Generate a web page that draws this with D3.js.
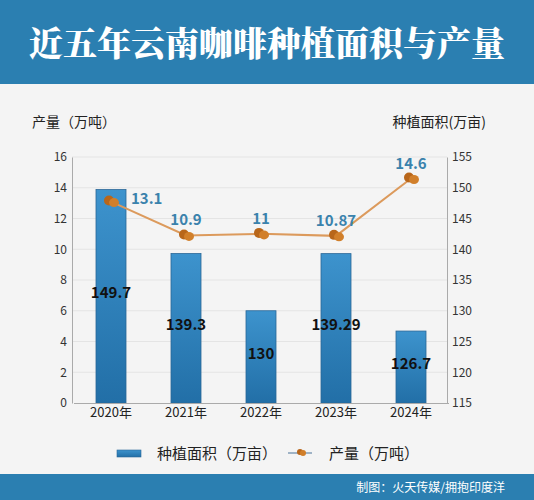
<!DOCTYPE html>
<html>
<head>
<meta charset="utf-8">
<script src="https://cdn.jsdelivr.net/npm/d3@7"></script>
<style>
  body { margin: 0; padding: 0; background: #f4f4f4; }
  svg { display: block; font-family: "Noto Sans CJK SC", "Noto Sans", sans-serif; }
</style>
</head>
<body>
<div id="chart"></div>
<script>
// data
const years = ["2020年", "2021年", "2022年", "2023年", "2024年"];
const areaValues = [149.7, 139.3, 130, 139.29, 126.7];      // 种植面积 (万亩), right axis
const outputValues = [13.1, 10.9, 11, 10.87, 14.6];          // 产量 (万吨), left axis
const leftTicks = [0, 2, 4, 6, 8, 10, 12, 14, 16];
const rightTicks = [115, 120, 125, 130, 135, 140, 145, 150, 155];

const W = 534, H = 500;
const margin = {top: 157, right: 87, bottom: 97, left: 72};
const plotW = W - margin.left - margin.right;
const plotH = H - margin.top - margin.bottom;

const svg = d3.select("#chart").append("svg")
    .attr("width", W)
    .attr("height", H);

// bar gradient
const defs = svg.append("defs");
const grad = defs.append("linearGradient")
    .attr("id", "barGrad")
    .attr("x1", 0).attr("y1", 0).attr("x2", 0).attr("y2", 1);
grad.append("stop").attr("offset", "0%").attr("stop-color", "#3d93cd");
grad.append("stop").attr("offset", "100%").attr("stop-color", "#226fa7");

// background pieces
svg.append("rect").attr("width", W).attr("height", H).attr("fill", "#f4f4f4");
svg.append("rect").attr("width", W).attr("height", 84).attr("fill", "#2b7fb1");
svg.append("rect").attr("y", 474).attr("width", W).attr("height", 26).attr("fill", "#2b7fb1");

svg.append("text")
    .attr("x", W / 2)
    .attr("y", 56)
    .attr("text-anchor", "middle")
    .attr("fill", "#ffffff")
    .attr("font-size", 34)
    .attr("font-weight", 900)
    .attr("font-family", "'Noto Serif CJK SC', 'Noto Sans CJK SC', sans-serif")
    .text("近五年云南咖啡种植面积与产量");

svg.append("text")
    .attr("x", 505)
    .attr("y", 492)
    .attr("text-anchor", "end")
    .attr("fill", "#ffffff")
    .attr("font-size", 12)
    .text("制图：火天传媒/拥抱印度洋");

// axis titles
svg.append("text")
    .attr("x", 32).attr("y", 127)
    .attr("fill", "#222").attr("font-size", 14)
    .text("产量（万吨）");
svg.append("text")
    .attr("x", 486).attr("y", 127)
    .attr("text-anchor", "end")
    .attr("fill", "#222").attr("font-size", 14)
    .text("种植面积(万亩)");

const g = svg.append("g").attr("transform", `translate(${margin.left},${margin.top})`);

// scales
const x = d3.scaleBand().domain(years).range([1.5, plotW + 1.5]).paddingInner(0.6).paddingOuter(0.3);
const yL = d3.scaleLinear().domain([0, 16]).range([plotH, 0]);
const yR = d3.scaleLinear().domain([115, 155]).range([plotH, 0]);

// grid
g.selectAll(".grid")
    .data(leftTicks.slice(1))
    .enter().append("line")
    .attr("class", "grid")
    .attr("x1", 0).attr("x2", plotW)
    .attr("y1", d => yL(d)).attr("y2", d => yL(d))
    .attr("stroke", "#e4e4e4").attr("stroke-width", 1);

// bars
g.selectAll(".bar")
    .data(areaValues)
    .enter().append("rect")
    .attr("class", "bar")
    .attr("x", (d, i) => x(years[i]))
    .attr("y", d => yR(d))
    .attr("width", x.bandwidth())
    .attr("height", d => plotH - yR(d))
    .attr("fill", "url(#barGrad)")
    .attr("stroke", "#2a6797")
    .attr("stroke-width", 0.8);

// bar value labels
g.selectAll(".barLabel")
    .data(areaValues)
    .enter().append("text")
    .attr("class", "barLabel")
    .attr("x", (d, i) => x(years[i]) + x.bandwidth() / 2)
    .attr("y", d => (yR(d) + plotH) / 2 + 2)
    .attr("text-anchor", "middle")
    .attr("fill", "#111")
    .attr("font-size", 15)
    .attr("font-weight", "bold")
    .text(d => d);

// axes
const axisL = g.append("g").call(d3.axisLeft(yL).tickValues(leftTicks).tickSize(0).tickPadding(5));
const axisR = g.append("g").attr("transform", `translate(${plotW},0)`)
    .call(d3.axisRight(yR).tickValues(rightTicks).tickSize(0).tickPadding(5));
const axisB = g.append("g").attr("transform", `translate(0,${plotH})`)
    .call(d3.axisBottom(x).tickSize(0).tickPadding(5));
[axisL, axisR, axisB].forEach(a => {
    a.select(".domain").attr("stroke", "#aaaaaa");
    a.selectAll("text").attr("fill", "#333").attr("font-size", 12)
        .attr("font-family", "'Noto Sans CJK SC', sans-serif");
});
axisB.selectAll("text").attr("font-size", 13).attr("fill", "#222");

// line
const cx = i => x(years[i]) + x.bandwidth() / 2;
const line = d3.line()
    .x((d, i) => cx(i))
    .y(d => yL(d));
g.append("path")
    .datum(outputValues)
    .attr("fill", "none")
    .attr("stroke", "#dc9a5c")
    .attr("stroke-width", 2)
    .attr("d", line);

// bean-ish markers
function bean(sel, px, py) {
    sel.append("ellipse").attr("cx", px - 2).attr("cy", py - 1).attr("rx", 5).attr("ry", 5)
        .attr("fill", "#b8661a");
    sel.append("ellipse").attr("cx", px + 3).attr("cy", py + 1).attr("rx", 5).attr("ry", 4.5)
        .attr("fill", "#d17f2a");
}
outputValues.forEach((d, i) => bean(g, cx(i), yL(d)));

// line value labels
g.selectAll(".lineLabel")
    .data(outputValues)
    .enter().append("text")
    .attr("class", "lineLabel")
    .attr("x", (d, i) => i === 0 ? cx(i) + 20 : cx(i))
    .attr("y", (d, i) => i === 0 ? yL(d) + 2 : yL(d) - 10)
    .attr("text-anchor", (d, i) => i === 0 ? "start" : "middle")
    .attr("fill", "#3a82ac")
    .attr("font-size", 15)
    .attr("font-weight", "bold")
    .text(d => d);

// legend
const leg = svg.append("g");
leg.append("rect").attr("x", 117).attr("y", 450).attr("width", 24).attr("height", 7)
    .attr("fill", "url(#barGrad)").attr("stroke", "#2a6797").attr("stroke-width", 0.6);
leg.append("text").attr("x", 157).attr("y", 459).attr("fill", "#222").attr("font-size", 15)
    .text("种植面积（万亩）");
leg.append("line").attr("x1", 288).attr("x2", 312).attr("y1", 453).attr("y2", 453)
    .attr("stroke", "#9fb3c6").attr("stroke-width", 2);
leg.append("circle").attr("cx", 300).attr("cy", 452).attr("r", 3).attr("fill", "#b8661a");
leg.append("circle").attr("cx", 303).attr("cy", 453).attr("r", 3).attr("fill", "#d17f2a");
leg.append("text").attr("x", 329).attr("y", 459).attr("fill", "#222").attr("font-size", 15)
    .text("产量（万吨）");
</script>
</body>
</html>
